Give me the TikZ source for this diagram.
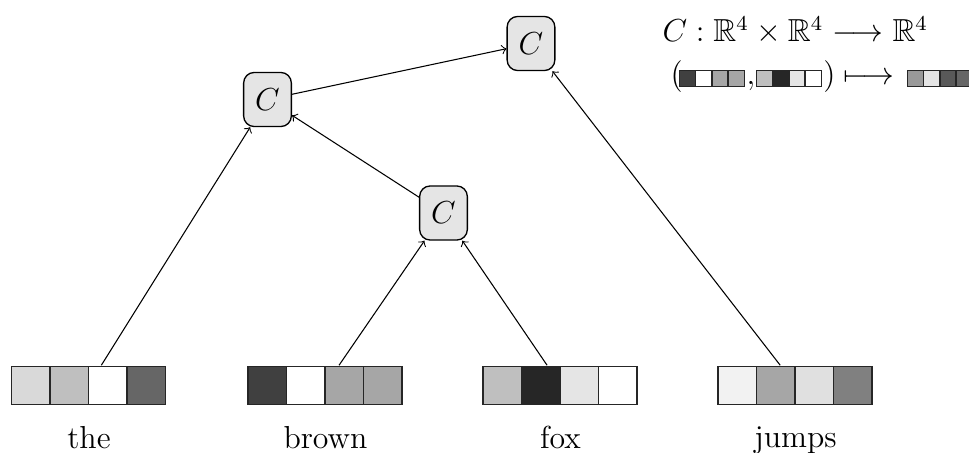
\documentclass[tikz,border=0pt]{standalone}
\usepackage{amssymb}
\tikzset{
  cellline/.style={draw=black!85, line width=0.5pt},
  wordvec/.style={rectangle, inner sep=0pt, minimum width=58pt, minimum height=14.5pt},
  smallvec/.style={rectangle, inner sep=0pt, minimum width=24.4pt, minimum height=6.1pt},
  combiner/.style={rectangle, rounded corners=4pt, draw=black, line width=0.5pt,
    fill=black!10, inner sep=0pt, minimum width=18pt, minimum height=20.4pt, font=\large},
  word/.style={anchor=north, inner sep=0pt, font=\large},
  legend/.style={inner sep=0pt, font=\large},
  link/.style={->, line width=0.4pt},
}
% fill the cells of a vector node, left to right
\newcommand{\drawcells}[3]{%
  \foreach \col [count=\k from 0] in {#3}
    \draw[cellline, fill=\col] ([xshift=\k*#2]#1.south west) rectangle ++(#2,#2);
}
\begin{document}
\begin{tikzpicture}[x=0.377pt, y=-0.377pt]
  \useasboundingbox (0,0) rectangle (969,453);

  % word vectors
  \node[wordvec] (vthe)   at (89,385)    {};
  \node[wordvec] (vbrown) at (325.5,385) {};
  \node[wordvec] (vfox)   at (560.5,385) {};
  \node[wordvec] (vjumps) at (795.5,385) {};
  \drawcells{vthe}{14.5pt}{black!15,black!25,white,black!60}
  \drawcells{vbrown}{14.5pt}{black!75,white,black!35,black!35}
  \drawcells{vfox}{14.5pt}{black!25,black!85,black!10,white}
  \drawcells{vjumps}{14.5pt}{black!5,black!35,black!12,black!50}

  % words
  \node[word] (lthe)   at (89,426)    {the};
  \node[word] (lbrown) at (325.5,426) {brown};
  \node[word] (lfox)   at (560.5,426) {fox};
  \node[word] (ljumps) at (795.5,426) {jumps};

  % composition nodes
  \node[combiner] (ca) at (531,43.5)   {$C$};
  \node[combiner] (cb) at (267.5,99.5) {$C$};
  \node[combiner] (cc) at (443.5,213)  {$C$};

  \draw[link] (vthe)   -- (cb);
  \draw[link] (vbrown) -- (cc);
  \draw[link] (vfox)   -- (cc);
  \draw[link] (vjumps) -- (ca);
  \draw[link] (cc) -- (cb);
  \draw[link] (cb) -- (ca);

  % signature of C
  \node[legend, anchor=base west] (sig) at (662,42)
    {$C:\mathbb{R}^4\times\mathbb{R}^4\longrightarrow\mathbb{R}^4$};
  \node[legend, anchor=base west] (lp) at (670,85) {$($};
  \node[smallvec] (sa) at (712.5,78) {};
  \node[legend, anchor=base] (cm) at (751,85) {$,$};
  \node[smallvec] (sb) at (789.5,78) {};
  \node[legend, anchor=base east] (rp) at (836,85) {$)$};
  \node[legend, anchor=base west] (mt) at (843,85) {$\longmapsto$};
  \node[smallvec] (sr) at (940.5,78) {};
  \drawcells{sa}{6.1pt}{black!75,white,black!35,black!35}
  \drawcells{sb}{6.1pt}{black!25,black!85,black!10,white}
  \drawcells{sr}{6.1pt}{black!40,black!10,black!65,black!60}
\end{tikzpicture}
\end{document}
